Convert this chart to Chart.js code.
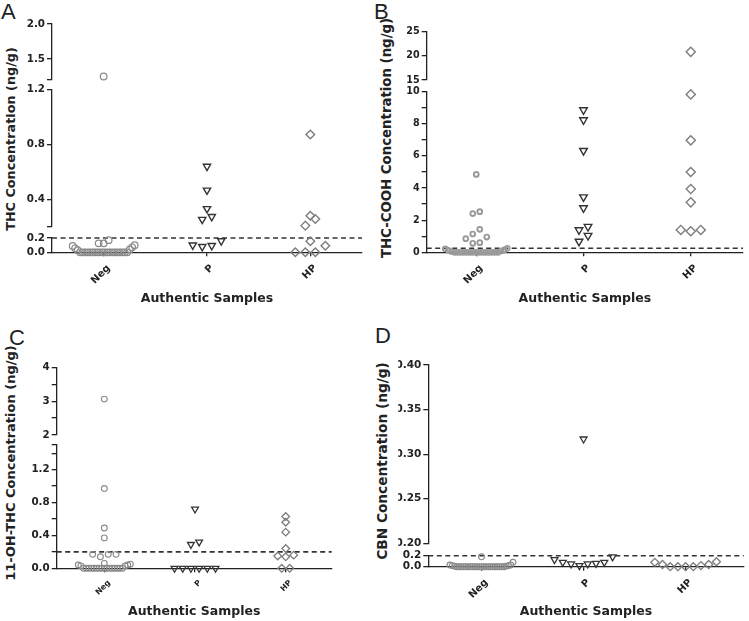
<!DOCTYPE html>
<html>
<head>
<meta charset="utf-8">
<script src="https://cdn.jsdelivr.net/npm/chart.js@4.4.1/dist/chart.umd.min.js"></script>
<style>
  body { margin: 0; background: #fff; width: 749px; height: 621px; position: relative; overflow: hidden; }
  canvas { position: absolute; }
  .letter { position: absolute; font-family: "Liberation Sans", Arial, sans-serif; font-size: 22px; line-height: 1; color: #222; }
  .ytitle { position: absolute; font-family: "DejaVu Sans", sans-serif; font-weight: bold; color: #222; white-space: nowrap;
            transform: translate(-50%, -50%) rotate(-90deg); line-height: 1; }
</style>
</head>
<body>
<div class="letter" style="left:1px;top:1px">A</div>
<div class="letter" style="left:374px;top:1px">B</div>
<div class="letter" style="left:9px;top:327px">C</div>
<div class="letter" style="left:375px;top:325px">D</div>

<div class="ytitle" style="left:10.5px;top:138.5px;font-size:12.8px">THC Concentration (ng/g)</div>
<div class="ytitle" style="left:387px;top:138px;font-size:13.3px">THC-COOH Concentration (ng/g)</div>
<div class="ytitle" style="left:9.5px;top:463px;font-size:13px">11-OH-THC Concentration (ng/g)</div>
<div class="ytitle" style="left:382.5px;top:461px;font-size:13.7px">CBN Concentration (ng/g)</div>

<canvas id="chartA" width="374" height="310" style="left:0;top:0"></canvas>
<canvas id="chartB" width="374" height="310" style="left:375px;top:0"></canvas>
<canvas id="chartC" width="374" height="311" style="left:0;top:310px"></canvas>
<canvas id="chartD" width="374" height="311" style="left:375px;top:310px"></canvas>

<script>
// categories
var groups = ["Neg", "P", "HP"];
var xTitle = "Authentic Samples";

// A - THC (ng/g)
var thcNeg = [1.25, 0.17, 0.125, 0.125, 0.1, 0.088, 0.07, 0.056, 0.04, 0.03,
  0, 0, 0, 0, 0, 0, 0, 0, 0, 0, 0, 0, 0, 0, 0, 0, 0, 0, 0, 0];
var thcP = [0.64, 0.467, 0.333, 0.275, 0.255, 0.16, 0.1, 0.093, 0.08];
var thcHP = [0.872, 0.282, 0.258, 0.21, 0.154, 0.092, 0, 0, 0];
var thcLoq = 0.2;

// B - THC-COOH (ng/g)
var coohNeg = [4.85, 2.53, 2.41, 1.43, 1.14, 0.95, 0.85, 0.6, 0.56, 0.25, 0.22, 0.15, 0.12, 0.08, 0.05,
  0, 0, 0, 0, 0, 0, 0, 0, 0, 0, 0, 0, 0, 0, 0];
var coohP = [8.86, 8.24, 6.33, 3.44, 2.76, 1.6, 1.39, 1.04, 0.68];
var coohHP = [20.83, 9.83, 6.97, 5.0, 3.94, 3.11, 1.39, 1.39, 1.31];
var coohLoq = 0.25;

// C - 11-OH-THC (ng/g)
var ohNeg = [3.06, 0.97, 0.49, 0.37, 0.17, 0.17, 0.17, 0.14, 0.06, 0.05, 0.04, 0.04, 0.03, 0.03,
  0, 0, 0, 0, 0, 0, 0, 0, 0, 0, 0, 0, 0, 0, 0, 0];
var ohP = [0.72, 0.32, 0.29, 0, 0, 0, 0, 0, 0];
var ohHP = [0.63, 0.56, 0.44, 0.24, 0.16, 0.15, 0.14, 0, 0];
var ohLoq = 0.2;

var cbnNeg = [0.18, 0.08, 0.03, 0.03, 0.02, 0.02, 0.01, 0.01,
  0, 0, 0, 0, 0, 0, 0, 0, 0, 0, 0, 0, 0, 0, 0, 0, 0, 0, 0, 0, 0, 0];
var cbnP = [0.317, 0.18, 0.13, 0.08, 0.08, 0.06, 0.05, 0.05, 0.02];
var cbnHP = [0.09, 0.08, 0.04, 0.04, 0.02, 0, 0, 0, 0];
var cbnLoq = 0.2;

// y tick values / labels for each axis piece (top to bottom)
var thcTicks = [[1.2, 1.5, 2.0], [0.2, 0.4, 0.8, 1.2], [0, 0.2]];
var thcLabels = [["", "1.5", "2.0"], ["", "0.4", "0.8", "1.2"], ["0.0", "0.2"]];
var coohTicks = [[15, 20, 25], [0, 1, 2, 3, 4, 5, 6, 7, 8, 9, 10]];
var coohLabels = [["15", "20", "25"], ["0", "", "2", "", "4", "", "6", "", "8", "", "10"]];
var ohTicks = [[2, 2.5, 3, 3.5, 4], [0, 0.2, 0.4, 0.6, 0.8, 1.0, 1.2, 1.4, 1.5]];
var ohLabels = [["2", "", "3", "", "4"], ["0.0", "", "0.4", "", "0.8", "", "1.2", "", ""]];
var cbnTicks = [[0.2, 0.25, 0.3, 0.35, 0.4], [0, 0.2]];
var cbnLabels = [["0.20", "0.25", "0.30", "0.35", "0.40"], ["0.0", "0.2"]];

var ink = "#222";

function style(shape, r, bw, color, step) {
  return { shape: shape, r: r, bw: bw, color: color, step: step };
}

// spreads points of one category sideways, row by row, lowest values in the middle
function swarmPlugin(rowH, maxW) {
  function place(row, step) {
    var n = row.length;
    var s = n > 1 ? Math.min(step, maxW / (n - 1)) : 0;
    var slots = [];
    for (var k = 0; k < n; k++) slots.push((k - (n - 1) / 2) * s);
    slots.sort(function (a, b) { return Math.abs(a) - Math.abs(b) || a - b; });
    var cx = row[0].el.x;
    row.forEach(function (p, k) { p.el.x = cx + slots[k]; });
  }
  return {
    id: "swarm",
    afterDatasetsUpdate: function (chart) {
      var byGroup = {}, steps = {};
      chart.data.datasets.forEach(function (ds, di) {
        if (ds.swarm === undefined) return;
        steps[ds.swarm] = ds.swarmStep;
        chart.getDatasetMeta(di).data.forEach(function (el, i) {
          (byGroup[ds.swarm] = byGroup[ds.swarm] || []).push({ el: el, v: ds.data[i].y });
        });
      });
      Object.keys(byGroup).forEach(function (g) {
        var pts = byGroup[g].sort(function (a, b) { return b.el.y - a.el.y || a.v - b.v; });
        var i = 0;
        while (i < pts.length) {
          var y0 = pts[i].el.y, j = i + 1;
          while (j < pts.length && y0 - pts[j].el.y < rowH) j++;
          place(pts.slice(i, j), steps[g]);
          i = j;
        }
      });
    }
  };
}

function makePanel(cfg) {
  var segs = cfg.segs;
  var yW = 30;
  var datasets = [];

  function segFor(v) {
    for (var i = segs.length - 1; i >= 0; i--) {
      if (!segs[i].gap && v <= segs[i].max) return i;
    }
    return 0;
  }

  cfg.values.forEach(function (vals, gi) {
    var st = cfg.styles[gi];
    segs.forEach(function (seg, si) {
      if (seg.gap) return;
      var pts = vals.filter(function (v) { return segFor(v) === si; })
        .map(function (v) { return { x: gi + 1, y: v }; });
      if (!pts.length) return;
      datasets.push({
        data: pts,
        yAxisID: "y" + si,
        swarm: gi,
        swarmStep: st.step,
        pointStyle: st.shape,
        pointRotation: st.shape === "triangle" ? 180 : 0,
        pointRadius: st.r,
        pointBorderWidth: st.bw,
        pointBorderColor: st.color,
        pointBackgroundColor: "rgba(0,0,0,0)",
        clip: false
      });
    });
  });

  // dashed LOQ line across the plot
  datasets.push({
    data: [{ x: cfg.xRange[0], y: cfg.loq }, { x: cfg.xRange[1], y: cfg.loq }],
    yAxisID: "y" + segFor(cfg.loq),
    showLine: true,
    borderColor: "#333",
    borderWidth: 1.6,
    borderDash: [5, 3.5],
    pointRadius: 0,
    clip: false,
    order: 1
  });

  var scales = {
    x: {
      type: "linear",
      min: cfg.xRange[0],
      max: cfg.xRange[1],
      afterBuildTicks: function (s) { s.ticks = groups.map(function (g, i) { return { value: i + 1 }; }); },
      afterFit: function (s) { s.height = cfg.xH; },
      grid: { drawOnChartArea: false, tickLength: 4, color: ink, lineWidth: 1.3 },
      border: { color: ink, width: 1.3 },
      ticks: {
        autoSkip: false, minRotation: 45, maxRotation: 45, padding: 6, labelOffset: 5, color: ink,
        font: { family: "DejaVu Sans", weight: "bold", size: cfg.xTickSize },
        callback: function (v, i) { return groups[i]; }
      },
      title: {
        display: true, text: xTitle, color: ink,
        font: { family: "DejaVu Sans", weight: "bold", size: 12.5 },
        padding: { top: 0, bottom: cfg.titlePad }
      }
    }
  };

  segs.forEach(function (seg, si) {
    var base = {
      type: "linear", position: "left", stack: "left", stackWeight: seg.h,
      weight: segs.length - si,
      afterFit: function (s) { s.width = yW; }
    };
    if (seg.gap) {
      scales["y" + si] = Object.assign(base, {
        min: 0, max: 1,
        grid: { display: false }, border: { display: false }, ticks: { display: false }
      });
    } else {
      scales["y" + si] = Object.assign(base, {
        min: seg.min, max: seg.max,
        afterBuildTicks: function (s) { s.ticks = seg.ticks.map(function (v) { return { value: v }; }); },
        grid: { drawOnChartArea: false, tickLength: 5, color: ink, lineWidth: 1.3 },
        border: { color: ink, width: 1.3 },
        ticks: {
          autoSkip: false, padding: 2, color: ink,
          font: { family: "DejaVu Sans", weight: "bold", size: cfg.yTickSize },
          callback: function (v, i) { return seg.labels[i]; }
        }
      });
    }
  });

  var a = cfg.area;
  return new Chart(document.getElementById(cfg.id), {
    type: "scatter",
    data: { datasets: datasets },
    options: {
      responsive: false,
      animation: false,
      devicePixelRatio: 1,
      layout: {
        padding: { left: a.left - yW, top: a.top, right: cfg.w - a.right, bottom: cfg.h - a.bottom - cfg.xH }
      },
      plugins: { legend: { display: false }, tooltip: { enabled: false } },
      scales: scales
    },
    plugins: [swarmPlugin(cfg.rowH, cfg.maxW)]
  });
}

makePanel({
  id: "chartA", w: 374, h: 310,
  area: { left: 52, top: 24, right: 362, bottom: 252.3 },
  xRange: [0.5, 3.5], xH: 56, titlePad: 2, xTickSize: 10, yTickSize: 10.3,
  segs: [
    { min: 1.2, max: 2.0, ticks: thcTicks[0], labels: thcLabels[0], h: 56 },
    { gap: true, h: 9.3 },
    { min: 0.2, max: 1.2, ticks: thcTicks[1], labels: thcLabels[1], h: 137.7 },
    { gap: true, h: 11 },
    { min: 0, max: 0.2, ticks: thcTicks[2], labels: thcLabels[2], h: 14.3 }
  ],
  values: [thcNeg, thcP, thcHP], loq: thcLoq,
  rowH: 8, maxW: 62,
  styles: [style("circle", 3.3, 1.2, "#8a8a8a", 5), style("triangle", 4.2, 1.4, "#333", 9.5), style("rectRot", 4.3, 1.4, "#7d7d7d", 10)]
});

makePanel({
  id: "chartB", w: 374, h: 310,
  area: { left: 51.7, top: 31.7, right: 371, bottom: 252.3 },
  xRange: [0.538, 3.487], xH: 56, titlePad: 2, xTickSize: 10, yTickSize: 9.6,
  segs: [
    { min: 15, max: 25, ticks: coohTicks[0], labels: coohLabels[0], h: 48.3 },
    { gap: true, h: 11.7 },
    { min: 0, max: 10, ticks: coohTicks[1], labels: coohLabels[1], h: 160.6 }
  ],
  values: [coohNeg, coohP, coohHP], loq: coohLoq,
  rowH: 8, maxW: 62,
  styles: [style("circle", 2.4, 1.9, "#9a9a9a", 7), style("triangle", 4.4, 1.4, "#333", 9), style("rectRot", 4.6, 1.4, "#7d7d7d", 10)]
});

makePanel({
  id: "chartC", w: 374, h: 311,
  area: { left: 56.7, top: 57.3, right: 331.7, bottom: 258.3 },
  xRange: [0.475, 3.507], xH: 52.7, titlePad: 1.5, xTickSize: 7.8, yTickSize: 10.3,
  segs: [
    { min: 2, max: 4, ticks: ohTicks[0], labels: ohLabels[0], h: 67.7 },
    { gap: true, h: 10 },
    { min: 0, max: 1.5, ticks: ohTicks[1], labels: ohLabels[1], h: 123.3 }
  ],
  values: [ohNeg, ohP, ohHP], loq: ohLoq,
  rowH: 4.5, maxW: 52,
  styles: [style("circle", 2.9, 1.1, "#8a8a8a", 7.8), style("triangle", 3.9, 1.3, "#333", 8.2), style("rectRot", 3.8, 1.3, "#7d7d7d", 8)]
});

makePanel({
  id: "chartD", w: 374, h: 311,
  area: { left: 53.3, top: 55, right: 370, bottom: 256.7 },
  xRange: [0.479, 3.569], xH: 54.3, titlePad: 1.5, xTickSize: 10, yTickSize: 10.5,
  segs: [
    { min: 0.2, max: 0.4, ticks: cbnTicks[0], labels: cbnLabels[0], h: 178.3 },
    { gap: true, h: 12.4 },
    { min: 0, max: 0.2, ticks: cbnTicks[1], labels: cbnLabels[1], h: 11 }
  ],
  values: [cbnNeg, cbnP, cbnHP], loq: cbnLoq,
  rowH: 9.5, maxW: 63,
  styles: [style("circle", 2.9, 1.1, "#8a8a8a", 7), style("triangle", 4, 1.3, "#333", 8.3), style("rectRot", 4, 1.3, "#7d7d7d", 7.7)]
});
</script>
</body>
</html>
